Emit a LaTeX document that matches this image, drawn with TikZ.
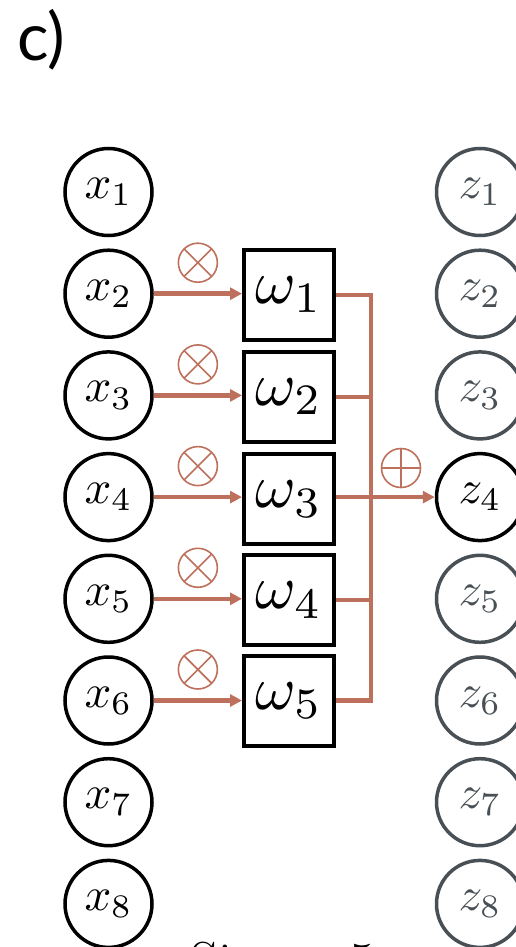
\documentclass[tikz,border=0pt]{standalone}
\usepackage{fontspec}
\usepackage{graphicx}
\newfontfamily\labelfont{Lato}
\usetikzlibrary{arrows.meta,calc}
\definecolor{brn}{RGB}{189,112,92}
\definecolor{gry}{RGB}{72,80,85}
\newcommand{\bigxz}[1]{\scalebox{4.7}{$#1$}}
\newcommand{\bigw}[1]{\scalebox{6.2}{$#1$}}
\tikzset{
  unit/.style={circle, draw, line width=3.5pt, minimum size=87pt, inner sep=0pt},
  xunit/.style={unit, draw=black, text=black},
  zunit/.style={unit, draw=gry, text=gry},
  wbox/.style={rectangle, draw, line width=4pt, minimum width=90pt, minimum height=90pt,
    inner sep=0pt},
  flow/.style={draw=brn, line width=4.5pt},
  flowarr/.style={flow, -{Triangle[length=12pt,width=12pt]}},
  opsym/.style={circle, draw=brn, line width=1.6pt, minimum size=39pt, inner sep=0pt},
  otimes/.style={opsym, path picture={
    \draw[brn, line width=1.6pt] (path picture bounding box.south west) -- (path picture bounding box.north east)
      (path picture bounding box.north west) -- (path picture bounding box.south east);}},
  oplus/.style={opsym, path picture={
    \draw[brn, line width=1.6pt] (path picture bounding box.south) -- (path picture bounding box.north)
      (path picture bounding box.west) -- (path picture bounding box.east);}},
}
\begin{document}
\begin{tikzpicture}[x=1pt, y=-1pt]
\useasboundingbox (0,0) rectangle (515,947);
% label
\node[anchor=base west, inner sep=0pt, font=\labelfont\fontsize{66}{72}\selectfont] (lab) at (17,61) {c)};
% input units
\foreach \i/\y in {1/192,2/293.7,3/395.4,4/497.1,5/598.8,6/700.5,7/802.2,8/903.9}{
  \node[xunit] (x\i) at (108.5,\y) {\bigxz{x_{\i}}};
}
% output units
\foreach \i/\y in {1/192,2/293.7,3/395.4,5/598.8,6/700.5,7/802.2,8/903.9}{
  \node[zunit] (z\i) at (480,\y) {\bigxz{z_{\i}}};
}
\node[xunit] (z4) at (480,497.1) {\bigxz{z_{4}}};
% weight boxes
\foreach \i/\y in {1/295,2/397,3/499,4/600,5/700.5}{
  \node[wbox] (w\i) at (289,\y) {\bigw{\omega_{\i}}};
}
% input arrows and multiply symbols
\foreach \i/\j in {2/1,3/2,4/3,5/4,6/5}{
  \draw[flowarr] (x\i.east) -- (x\i.east -| w\j.west);
  \node[otimes] (m\j) at ($(x\i.east)!0.5!(x\i.east -| w\j.west) + (0,-31)$) {};
}
% bus
\coordinate (bus) at (371,0);
\draw[flow, line join=miter] (w1.east) -- (w1.east -| bus) -- (w5.east -| bus) -- (w5.east);
\draw[flow] (w2.east) -- (w2.east -| bus);
\draw[flow] (w4.east) -- (w4.east -| bus);
\draw[flowarr] (w3.east |- z4) -- (z4.west);
\node[oplus] (sum) at (401,468) {};
% bottom text (cut off at the lower edge, as in the reference)
\node[anchor=base west, inner sep=0pt, font=\fontsize{55}{60}\selectfont] (size) at (190,980) {Size = 5};
\end{tikzpicture}
\end{document}
